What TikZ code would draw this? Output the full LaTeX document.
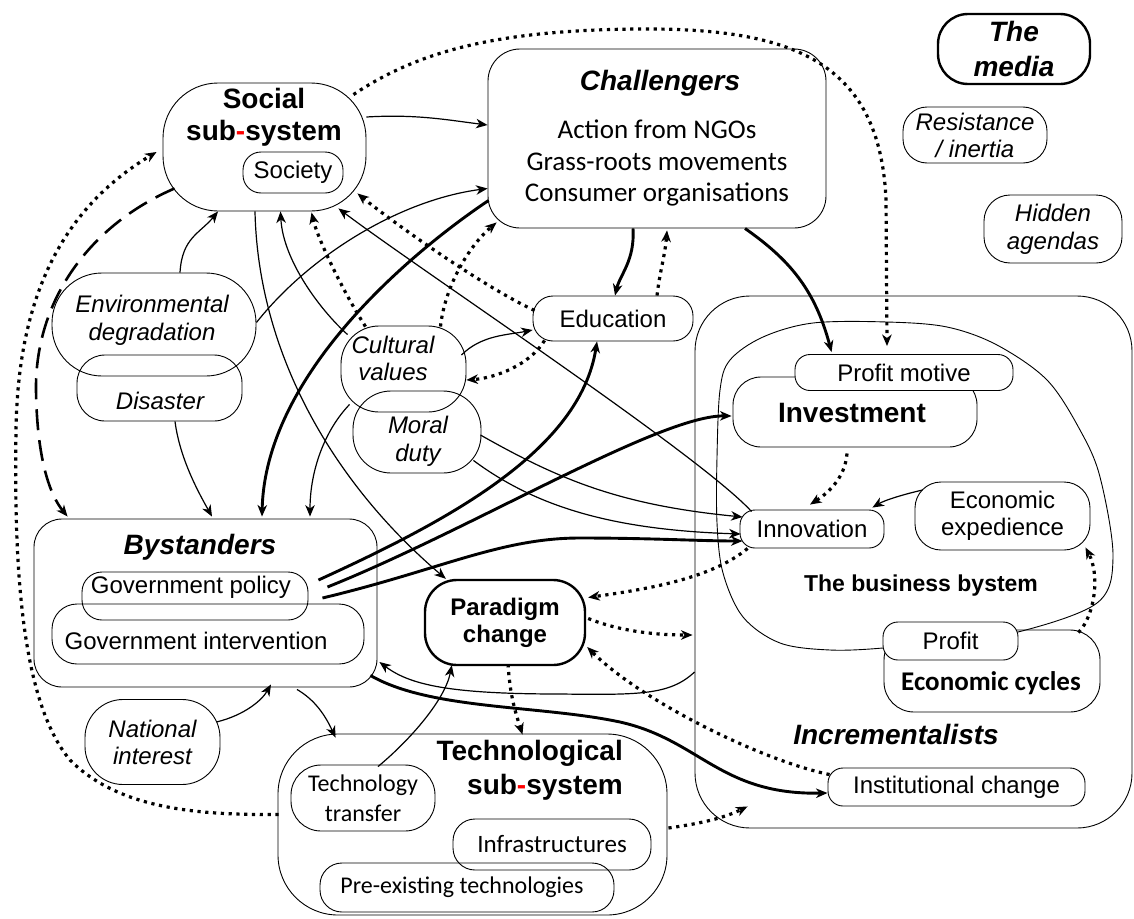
\documentclass[tikz,border=0pt]{standalone}
\usepackage{fontspec}
\setmainfont{Liberation Sans}
\newfontfamily\calib{Carlito}
\usetikzlibrary{arrows.meta,calc}
\newcommand\fsz[2]{\fontsize{#1}{#2}\selectfont}
\begin{document}
\begin{tikzpicture}[x=1pt,y=-1pt,
  box/.style={draw, rounded corners=#1, line width=0.9pt, inner sep=0pt, align=center},
  box/.default=18pt,
  tbox/.style={box=#1, line width=2.4pt},
  txt/.style={inner sep=0pt, align=center},
  rmf/.style={font=\fsz{24}{27}},
  itf/.style={font=\fsz{24}{27}\itshape},
  ttl/.style={font=\fsz{28}{33}\bfseries\itshape},
  bld/.style={font=\fsz{28}{32}\bfseries},
  ln/.style={line width=1.2pt},
  lnthick/.style={line width=2.9pt},
  dotl/.style={line width=3.2pt, dash pattern=on 3.2pt off 4.6pt},
  dashl/.style={line width=2.6pt, dash pattern=on 21pt off 10pt},
  arr/.style={-{Stealth[length=11.5pt,width=9.5pt,inset=3.5pt]}}
]
\fill[white] (0,0) rectangle (1134,918);
\useasboundingbox (0,0) rectangle (1134,918);

% ---------- Incrementalists / business system ----------
\node[box=55pt, minimum width=437pt, minimum height=532pt] (increm) at (913.5,562) {};
\draw[line width=0.9pt] plot[smooth cycle, tension=0.55] coordinates {(950,640) (1018,632) (1097,603) (1113,557) (1100,477) (1080,430) (1047,380) (997,345) (947,327) (887,322) (813,323) (763,337) (730,360) (720,390) (717,457) (717,523) (723,573) (743,617) (780,643) (830,650) (883,648)};
\node[box=28pt, minimum width=244pt, minimum height=70pt] (investment) at (855,412) {};
\node[txt, bld] (investt) at (852,413) {Investment};
\node[box=15pt, minimum width=218pt, minimum height=36pt, fill=white, rmf] (profitmotive) at (904,372.5) {Profit motive};
\node[box=15pt, minimum width=144pt, minimum height=38pt, rmf] (innovation) at (812,529) {Innovation};
\node[box=26pt, minimum width=175pt, minimum height=68pt, rmf] (econexp) at (1002.5,516) {Economic\\expedience};
\node[txt, font=\fsz{23}{26}\bfseries] (bizt) at (921,586) {The business bystem};
\node[box=30pt, minimum width=216pt, minimum height=82pt] (econcyc) at (992,671) {};
\node[txt, font=\calib\fsz{27}{30}\bfseries] (econcyct) at (991,683) {Economic cycles};
\node[box=15pt, minimum width=135pt, minimum height=38pt, fill=white, rmf] (profit) at (950.5,641) {Profit};
\node[txt, ttl] (incremt) at (896,734) {Incrementalists};
\node[box=15pt, minimum width=257pt, minimum height=38pt, rmf] (instchange) at (956.5,787) {Institutional change};

% ---------- upper left ----------
\node[box=55pt, minimum width=203pt, minimum height=128pt] (social) at (264.5,147) {};
\node[txt, bld] (socialt) at (264,117) {Social\\sub{\color{red}-}system};
\node[box=18pt, minimum width=100pt, minimum height=41pt, rmf] (society) at (293,172.5) {Society};

\node[box=32pt, minimum width=338pt, minimum height=179pt] (challengers) at (657,138.5) {};
\node[txt, ttl] (challt) at (660,83) {Challengers};
\node[txt, font=\calib\fsz{27}{31.5}] (challl) at (657,163) {Action from NGOs\\Grass-roots movements\\Consumer organisations};

\node[tbox=30pt, minimum width=152pt, minimum height=70pt, font=\fsz{28}{35}\bfseries\itshape] (media) at (1014,49) {The\\media};
\node[box=24pt, minimum width=144pt, minimum height=56pt, itf] (resist) at (975,135) {Resistance\\/ inertia};
\node[box=26pt, minimum width=138pt, minimum height=68pt, font=\fsz{24}{28}\itshape] (hidden) at (1053,229) {Hidden\\agendas};

\node[box=50pt, minimum width=204pt, minimum height=103pt] (env) at (154,324.5) {};
\node[txt, font=\fsz{24}{28}\itshape] (envt) at (152,320) {Environmental\\degradation};
\node[box=28pt, minimum width=165pt, minimum height=66pt] (disaster) at (159.5,388) {};
\node[txt, itf] (disastert) at (160,401) {Disaster};
\node[box=38pt, minimum width=125pt, minimum height=86pt] (cultural) at (403.5,369) {};
\node[txt, itf] (culturalt) at (393,358.5) {Cultural\\values};
\node[box=38pt, minimum width=128pt, minimum height=82pt] (moral) at (417,432) {};
\node[txt, font=\fsz{24}{28}\itshape] (moralt) at (418,441) {Moral\\duty};
\node[box=20pt, minimum width=160pt, minimum height=45pt, rmf] (education) at (613,318.5) {Education};

% ---------- lower left ----------
\node[box=28pt, minimum width=343pt, minimum height=168pt] (bystanders) at (205.5,603) {};
\node[txt, ttl] (bystt) at (200,547) {Bystanders};
\node[box=20pt, minimum width=226pt, minimum height=48pt] (govpol) at (195,596) {};
\node[txt, rmf] (govpolt) at (191,587) {Government policy};
\node[box=25pt, minimum width=312pt, minimum height=60pt] (govint) at (208,634) {};
\node[txt, rmf] (govintt) at (196,641) {Government intervention};
\node[box=38pt, minimum width=135pt, minimum height=85pt, itf] (national) at (152.5,742) {National\\interest};

\node[tbox=32pt, minimum width=160pt, minimum height=85pt, font=\fsz{24}{27}\bfseries] (paradigm) at (505,622.5) {Paradigm\\change};

\node[box=60pt, minimum width=389pt, minimum height=181pt] (tech) at (472.5,824.5) {};
\node[txt, font=\fsz{28}{34}\bfseries, align=right, anchor=east] (techt) at (623,770) {Technological\\sub{\color{red}-}system};
\node[box=30pt, minimum width=144pt, minimum height=66pt, font=\calib\fsz{24}{30}] (techtrans) at (363,798) {Technology\\transfer};
\node[box=22pt, minimum width=198pt, minimum height=51pt, font=\calib\fsz{25}{30}] (infra) at (552,844.5) {Infrastructures};
\node[box=22pt, minimum width=294pt, minimum height=49pt] (preex) at (467,887.5) {};
\node[txt, font=\calib\fsz{24}{30}] (preext) at (462,887) {Pre-existing technologies};

% ---------- connectors ----------
\draw[ln, arr] ($(social.east)+(0,-30)$) .. controls +(50,-3) and +(-40,-5) .. ($(challengers.west)+(0,-13.5)$);
\draw[dotl, arr] ($(social.north east)+(-13,12)$) .. controls (420,50) and (500,30) .. (640,29) .. controls (790,28) and (880,60) .. (886,200) -- ($(profitmotive.north)+(-17,-8)$);
\draw[dashl, arr] ($(social.south west)+(12,-23)$) .. controls (90,225) and (35,300) .. (36,390) .. controls (37,460) and (50,495) .. ($(bystanders.north west)+(34,-2)$);
\draw[dotl, arr] ($(tech.west)+(1,-10)$) .. controls (200,815) and (120,810) .. (70,760) .. controls (20,700) and (14,560) .. (16,430) .. controls (18,300) and (60,210) .. ($(social.west)+(-6,5)$);
\draw[ln, arr] ($(env.north)+(26,0)$) .. controls +(2,-35) and +(-18,22) .. ($(social.south)+(-46.5,0)$);
\draw[ln, arr] ($(env.east)+(0,-2)$) .. controls (310,255) and (400,200) .. ($(challengers.west)+(0,50)$);
\draw[ln, arr] ($(social.south)+(-9.5,0)$) .. controls (258,350) and (330,480) .. ($(paradigm.north west)+(22,0)$);
\draw[ln, arr] ($(cultural.north west)+(7,9)$) .. controls (320,310) and (283,260) .. ($(social.south)+(16,0)$);
\draw[dotl, arr] ($(cultural.north)+(-38,1)$) .. controls (345,295) and (318,240) .. ($(social.south)+(47,1)$);
\draw[ln, arr] ($(innovation.north west)+(12,2)$) .. controls (700,455) and (420,270) .. ($(social.south east)+(-28,-3)$);
\draw[dotl, arr] ($(education.west)+(2,-8)$) .. controls (480,285) and (390,220) .. ($(social.south east)+(-9,-18)$);
\draw[lnthick, arr] ($(challengers.south)+(-24,0)$) .. controls +(2,32) and +(5,-21) .. ($(education.north)+(2,0)$);
\draw[dotl, arr] ($(education.north)+(44,0)$) .. controls +(3,-25) and +(-2,25) .. ($(challengers.south)+(10,2)$);
\draw[dotl, arr] ($(cultural.north)+(37,1)$) .. controls (445,285) and (470,245) .. ($(challengers.south west)+(9,-6)$);
\draw[ln, arr] ($(cultural.east)+(-5,-14)$) .. controls +(20,-20) and +(-25,5) .. ($(education.west)+(0,11.5)$);
\draw[dotl, arr] ($(education.south west)+(12,-1)$) .. controls (530,365) and (495,378) .. ($(cultural.east)+(0,11)$);
\draw[lnthick, arr] ($(challengers.south west)+(1,-28)$) .. controls (400,260) and (265,380) .. ($(bystanders.north)+(56.5,-2)$);
\draw[ln, arr] ($(cultural.south west)+(9,-8)$) .. controls (325,430) and (310,470) .. ($(bystanders.north)+(104.5,-2)$);
\draw[ln, arr] ($(disaster.south)+(15.5,0)$) .. controls (180,460) and (200,495) .. ($(bystanders.north)+(6.5,-2)$);
\draw[lnthick, arr] ($(govpol.east)+(10,-16)$) .. controls (450,520) and (580,450) .. ($(education.south)+(-16,0)$);
\draw[lnthick, arr] ($(govpol.east)+(19,-9)$) .. controls (470,530) and (660,415) .. ($(investment.west)+(-1,4)$);
\draw[lnthick, arr] ($(govpol.east)+(14,2)$) .. controls (440,570) and (500,538) .. (580,538) .. controls (650,538) and (700,541) .. ($(innovation.west)+(3,12)$);
\draw[ln, arr] ($(moral.east)+(-1,3)$) .. controls (560,480) and (620,505) .. ($(innovation.west)+(3,-12)$);
\draw[ln, arr] ($(moral.south east)+(-8,-13)$) .. controls (540,510) and (620,530) .. ($(innovation.west)+(1,5)$);
\draw[lnthick, arr] ($(challengers.south)+(88,0)$) .. controls (790,260) and (815,290) .. ($(profitmotive.north west)+(37,-2)$);
\draw[dotl, arr] ($(investment.south)+(-8,6)$) .. controls (845,480) and (825,495) .. ($(innovation.north)+(-2,-5)$);
\draw[ln, arr] ($(econexp.west)+(8,-26)$) .. controls (905,494) and (885,500) .. ($(innovation.north east)+(-12,-2)$);
\draw[dotl, arr] ($(innovation.south west)+(8,0)$) .. controls (710,580) and (640,590) .. ($(paradigm.east)+(2,-25)$);
\draw[dotl, arr] ($(paradigm.east)+(2,-4)$) .. controls +(30,12) and +(-40,0) .. ($(increm.west)+(-2,73)$);
\draw[dotl, arr] ($(instchange.north west)+(2,7)$) .. controls (760,760) and (640,700) .. ($(paradigm.east)+(1,24.5)$);
\draw[dotl, arr] ($(paradigm.south)+(3,-2)$) .. controls +(2,30) and +(-8,-25) .. ($(tech.north)+(50,1)$);
\draw[ln, arr] ($(techtrans.north)+(15,2)$) .. controls (410,740) and (445,700) .. ($(paradigm.south west)+(28,-1)$);
\draw[ln, arr] ($(bystanders.south)+(91.5,2)$) .. controls (315,700) and (325,715) .. ($(tech.north west)+(58,4)$);
\draw[ln, arr] ($(national.east)+(-4,-20)$) .. controls (245,715) and (262,700) .. ($(bystanders.south)+(65.5,-3)$);
\draw[lnthick, arr] ($(bystanders.south east)+(-7,-12)$) .. controls (430,710) and (540,705) .. (620,722) .. controls (700,740) and (720,795) .. ($(instchange.west)+(0,6)$);
\draw[ln, arr] ($(increm.west)+(0,110)$) .. controls (670,695) and (640,695) .. (560,694) .. controls (450,694) and (410,685) .. ($(bystanders.east)+(2,59)$);
\draw[dotl, arr] ($(tech.east)+(1,3.5)$) .. controls (690,825) and (720,820) .. ($(increm.south west)+(53,-22)$);
\draw[dotl, arr] ($(econcyc.north east)+(-22,3)$) .. controls (1095,615) and (1100,575) .. ($(econexp.south east)+(-5,-3)$);
\end{tikzpicture}
\end{document}
